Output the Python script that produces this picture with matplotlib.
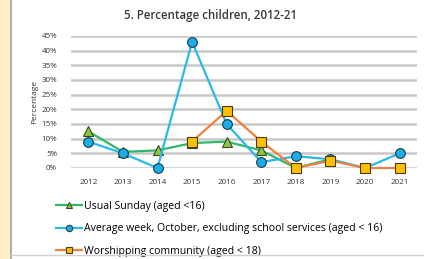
import numpy as np
import matplotlib
matplotlib.use('Agg')
from matplotlib import pyplot as plt
from matplotlib.patches import Rectangle
from matplotlib.lines import Line2D

years = ['2012', '2013', '2014', '2015', '2016', '2017', '2018', '2019', '2020', '2021']
usual_sunday = [12.5, 5.5, 6, 8.5, 9, 6, 0, 3, np.nan, np.nan]
average_week = [9, 5, 0, 43, 15, 2, 4, 3, 0, 5]
worshipping = [np.nan, np.nan, np.nan, 9, 19.5, 9, 0, 2.5, 0, 0]
labels = ['Usual Sunday (aged <16)',
          'Average week, October, excluding school services (aged < 16)',
          'Worshipping community (aged < 18)']

plt.rcParams['font.family'] = ['Open Sans', 'DejaVu Sans']

fig = plt.figure(figsize=(4.24, 2.59), dpi=100)
fig.patch.set_facecolor('white')

# yellow strip on the left + frame lines
fig.patches.append(Rectangle((0, 0), 10/424, 1, transform=fig.transFigure,
                             facecolor='#fbf0c6', edgecolor='none'))
fig.lines.append(Line2D([11/424, 11/424], [0, 1], transform=fig.transFigure,
                        color='#a0a0a0', lw=1.2))
fig.lines.append(Line2D([11/424, 1], [4/259, 4/259], transform=fig.transFigure,
                        color='#d0d0d0', lw=1))

ax = fig.add_axes([71/424, 1 - 168/259, 346/424, 132/259])
x = np.arange(len(years))

ax.plot(x, usual_sunday, color='#2fb866', lw=1.6, marker='^', ms=6.5,
        mfc='#8cc63f', mec='#3a4a20', mew=0.8, label=labels[0], zorder=3)
ax.plot(x, average_week, color='#2bb8ea', lw=1.6, marker='o', ms=7,
        mfc='#1aaee6', mec='#1d3a4a', mew=0.8, label=labels[1], zorder=4)
ax.plot(x, worshipping, color='#f0803c', lw=1.6, marker='s', ms=6.5,
        mfc='#ffc000', mec='#4a3a10', mew=0.8, label=labels[2], zorder=5)

ax.set_xlim(-0.5, len(years) - 0.5)
ax.set_ylim(0, 45)
ax.set_yticks(np.arange(0, 46, 5))
ax.set_yticklabels([f'{v}%' for v in range(0, 46, 5)])
ax.set_xticks(x)
ax.set_xticklabels(years)
ax.tick_params(axis='both', length=0, labelsize=5.8, colors='#333333')
ax.tick_params(axis='x', pad=8)
ax.tick_params(axis='y', pad=10)
ax.yaxis.grid(True, color='#c8c8c8', lw=1.8, zorder=0)
ax.set_axisbelow(True)
for s in ax.spines.values():
    s.set_visible(False)
for ln in ax.lines:
    ln.set_clip_on(False)

ax.set_ylabel('Percentage', fontsize=6, color='#333333', labelpad=2)
fig.text(210/424, 1 - 15/259, '5. Percentage children, 2012-21', ha='center',
         va='center', fontsize=8.3, color='#3a3a3a', fontweight='semibold')

ax.legend(loc='upper left', bbox_to_anchor=(-0.055, -0.215),
          frameon=False, fontsize=7.6, handlelength=2.4, handletextpad=0.2,
          labelspacing=1.1, borderaxespad=0, markerscale=0.65)

fig.savefig('out.png', dpi=100)
